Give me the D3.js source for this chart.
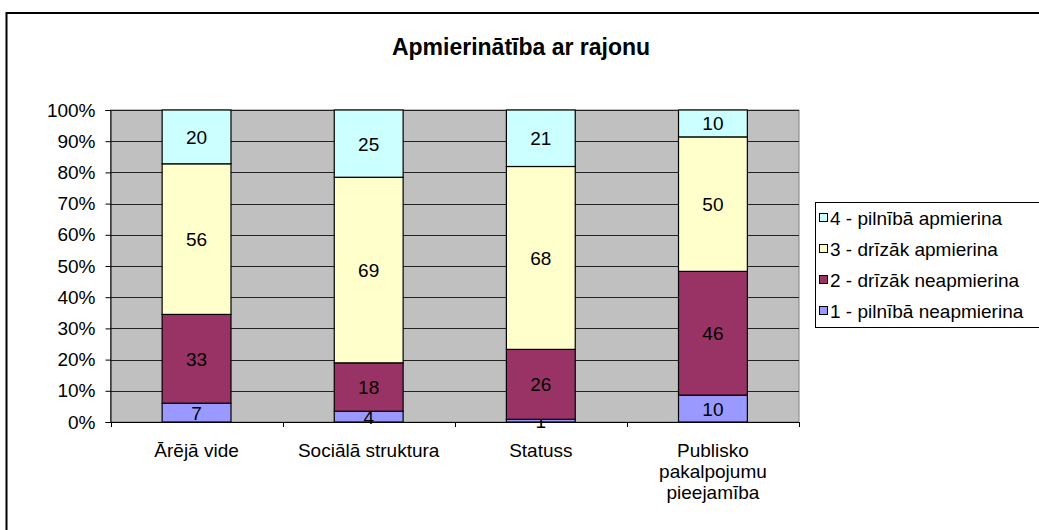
<!DOCTYPE html>
<html>
<head>
    <script src="https://cdnjs.cloudflare.com/ajax/libs/d3/7.8.5/d3.min.js"></script>
    <style>
        body { margin: 0; background: #fff; }
        svg { font-family: "Liberation Sans", Arial, sans-serif; }
    </style>
</head>
<body>
    <div id="chart"></div>
    <script>
        const width = 1039;
        const height = 530;

        // data
        const categories = [["Ārējā vide"], ["Sociālā struktura"], ["Statuss"], ["Publisko", "pakalpojumu", "pieejamība"]];
        const seriesNames = ["1 - pilnībā neapmierina", "2 - drīzāk neapmierina", "3 - drīzāk apmierina", "4 - pilnībā apmierina"];
        const seriesColors = ["#9999FF", "#993366", "#FFFFCC", "#CCFFFF"];
        const s1 = [7, 4, 1, 10];
        const s2 = [33, 18, 26, 46];
        const s3 = [56, 69, 68, 50];
        const s4 = [20, 25, 21, 10];
        const yTicks = [0, 0.1, 0.2, 0.3, 0.4, 0.5, 0.6, 0.7, 0.8, 0.9, 1];

        const series = [s1, s2, s3, s4];
        const plot = {left: 110.5, right: 799, top: 110, bottom: 422};
        const fontSize = 19;

        const svg = d3.select("#chart")
            .append("svg")
            .attr("width", width)
            .attr("height", height);

        // outer chart border
        svg.append("rect")
            .attr("x", 6.5).attr("y", 13)
            .attr("width", 1040).attr("height", 530)
            .attr("fill", "#fff")
            .attr("stroke", "#000")
            .attr("stroke-width", 2);

        svg.append("text")
            .attr("x", 521).attr("y", 55)
            .attr("text-anchor", "middle")
            .attr("font-size", 23)
            .attr("font-weight", "bold")
            .text("Apmierinātība ar rajonu");

        const x = d3.scaleBand()
            .domain(d3.range(categories.length))
            .range([plot.left, plot.right])
            .paddingInner(0.6)
            .paddingOuter(0.3);
        const step = (plot.right - plot.left) / categories.length;

        const y = d3.scaleLinear().domain([0, 1]).range([plot.bottom, plot.top]);

        // plot background
        svg.append("rect")
            .attr("x", plot.left).attr("y", plot.top)
            .attr("width", plot.right - plot.left)
            .attr("height", plot.bottom - plot.top)
            .attr("fill", "#C0C0C0")
            .attr("stroke", "#808080");

        // gridlines
        svg.append("g").selectAll("line")
            .data(yTicks.slice(1))
            .enter().append("line")
            .attr("x1", plot.left).attr("x2", plot.right)
            .attr("y1", d => Math.round(y(d)) + 0.5)
            .attr("y2", d => Math.round(y(d)) + 0.5)
            .attr("stroke", "#222");

        // y axis
        const yAxis = svg.append("g")
            .attr("transform", `translate(${plot.left},0)`)
            .call(d3.axisLeft(y).tickValues(yTicks).tickFormat(d3.format(".0%")).tickSize(5).tickPadding(10));
        yAxis.select(".domain").attr("stroke", "#000");
        yAxis.selectAll("text").attr("font-size", fontSize).attr("font-family", "Liberation Sans, Arial, sans-serif").attr("fill", "#000");

        // x axis line and ticks at category boundaries
        svg.append("line")
            .attr("x1", plot.left).attr("x2", plot.right)
            .attr("y1", plot.bottom + 0.5).attr("y2", plot.bottom + 0.5)
            .attr("stroke", "#000");
        svg.append("g").selectAll("line")
            .data(d3.range(categories.length + 1))
            .enter().append("line")
            .attr("x1", d => Math.round(plot.left + d * step) + 0.5)
            .attr("x2", d => Math.round(plot.left + d * step) + 0.5)
            .attr("y1", plot.bottom).attr("y2", plot.bottom + 5)
            .attr("stroke", "#000");

        // stacked bars (100%)
        const totals = categories.map((c, i) => d3.sum(series, s => s[i]));
        categories.forEach((cat, i) => {
            let acc = 0;
            series.forEach((s, k) => {
                const v0 = acc / totals[i];
                acc += s[i];
                const v1 = acc / totals[i];
                svg.append("rect")
                    .attr("x", x(i)).attr("y", y(v1))
                    .attr("width", x.bandwidth())
                    .attr("height", y(v0) - y(v1))
                    .attr("fill", seriesColors[k])
                    .attr("stroke", "#000")
                    .attr("stroke-width", 1.2);
                svg.append("text")
                    .attr("x", x(i) + x.bandwidth() / 2)
                    .attr("y", (y(v0) + y(v1)) / 2 + 7)
                    .attr("text-anchor", "middle")
                    .attr("font-size", fontSize)
                    .text(s[i]);
            });
        });

        // category labels
        categories.forEach((lines, i) => {
            const t = svg.append("text")
                .attr("text-anchor", "middle")
                .attr("font-size", fontSize);
            lines.forEach((ln, j) => {
                t.append("tspan")
                    .attr("x", plot.left + step * (i + 0.5))
                    .attr("y", 457 + j * 21)
                    .text(ln);
            });
        });

        // legend
        svg.append("rect")
            .attr("x", 815.5).attr("y", 202.5)
            .attr("width", 240).attr("height", 125)
            .attr("fill", "#fff")
            .attr("stroke", "#000");
        const legendOrder = [3, 2, 1, 0];
        legendOrder.forEach((k, j) => {
            const ly = 218 + j * 31;
            svg.append("rect")
                .attr("x", 819.5).attr("y", ly - 4.5)
                .attr("width", 8).attr("height", 8)
                .attr("fill", seriesColors[k])
                .attr("stroke", "#000");
            svg.append("text")
                .attr("x", 830).attr("y", ly + 7)
                .attr("font-size", fontSize)
                .text(seriesNames[k]);
        });
    </script>
</body>
</html>
